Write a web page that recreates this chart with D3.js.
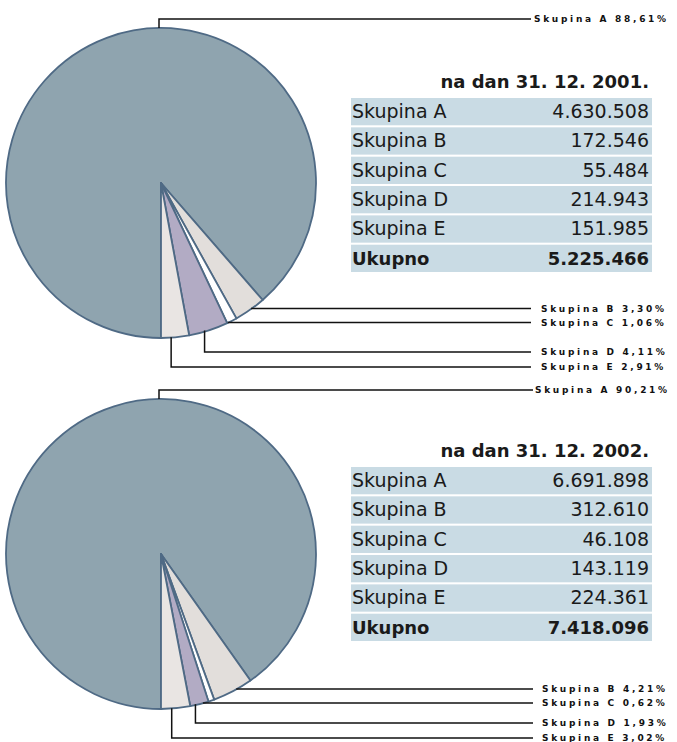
<!DOCTYPE html>
<html>
<head>
<meta charset="utf-8">
<script src="https://cdn.jsdelivr.net/npm/d3@7/dist/d3.min.js"></script>
<style>
  body { margin: 0; background: #fff; }
  svg { display: block; }
</style>
</head>
<body>
<div id="chart"></div>
<script>
//************* data ***************/
var groups = ["Skupina A", "Skupina B", "Skupina C", "Skupina D", "Skupina E"];
var values2001 = [4630508, 172546, 55484, 214943, 151985];
var values2002 = [6691898, 312610, 46108, 143119, 224361];
var titles = ["na dan 31. 12. 2001.", "na dan 31. 12. 2002."];
var totalLabel = "Ukupno";

//************* set dimensions ***************/
var width = 677, height = 742;
var radius = 155;
var panels = [
  { values: values2001, title: titles[0], cx: 161, cy: 183, tableTop: 98, lineEnd: 531, textX: 541 },
  { values: values2002, title: titles[1], cx: 161, cy: 554, tableTop: 467, lineEnd: 533, textX: 542 }
];

var colors = d3.scaleOrdinal()
  .domain(groups)
  .range(["#8fa4af", "#e2dedb", "#ffffff", "#b2abc4", "#e9e5e3"]);

var fmtInt = function(v) { return d3.format(",")(v).replace(/,/g, "."); };
var fmtPct = function(v) { return d3.format(".2f")(v).replace(".", ",") + "%"; };

var svg = d3.select("#chart")
  .append("svg")
    .attr("width", width)
    .attr("height", height);

// pie starts at 6 o'clock, A goes round the left side, E ends next to the start line
var pie = d3.pie().sort(null).startAngle(-Math.PI).endAngle(Math.PI);
var arc = d3.arc().innerRadius(0).outerRadius(radius);

panels.forEach(function(p) {
  var total = d3.sum(p.values);
  var slices = pie(p.values);
  var g = svg.append("g").attr("transform", "translate(" + p.cx + "," + p.cy + ")");

  g.selectAll("path")
    .data(slices)
    .enter()
    .append("path")
      .attr("d", arc)
      .attr("fill", function(d, i) { return colors(groups[i]); })
      .attr("stroke", "#4f6a85")
      .attr("stroke-width", 1.8)
      .attr("stroke-linejoin", "round");

  //************* leader lines ***************/
  function mid(d) {
    var a = (d.startAngle + d.endAngle) / 2;
    return [Math.sin(a) * radius, -Math.cos(a) * radius];
  }
  var leaders = [];
  // A: from the top of the pie
  leaders.push({ pts: [[-2, -radius], [-2, -radius - 9], [p.lineEnd - p.cx, -radius - 9]], i: 0 });
  // B and C: straight right, kept at least 14px apart
  var yB = mid(slices[1])[1], yC = mid(slices[2])[1];
  if (yC - yB < 14) { var s = (14 - (yC - yB)) / 2; yB -= s; yC += s; }
  [[1, yB], [2, yC]].forEach(function(e) {
    var x = Math.sqrt(radius * radius - e[1] * e[1]) - 1;
    leaders.push({ pts: [[x, e[1]], [p.lineEnd - p.cx, e[1]]], i: e[0] });
  });
  // D and E: down below the pie, then right
  [[3, 14], [4, 29]].forEach(function(e) {
    var m = mid(slices[e[0]]);
    var y = radius + e[1];
    leaders.push({ pts: [[m[0] - 4, m[1]], [m[0] - 4, y], [p.lineEnd - p.cx, y]], i: e[0] });
  });

  g.selectAll("polyline")
    .data(leaders)
    .enter()
    .append("polyline")
      .attr("points", function(d) { return d.pts.map(function(q) { return q.join(","); }).join(" "); })
      .attr("fill", "none")
      .attr("stroke", "#111")
      .attr("stroke-width", 1.5);

  g.selectAll("text.lbl")
    .data(leaders)
    .enter()
    .append("text")
      .attr("class", "lbl")
      .attr("x", function(d) { return (d.i === 0 ? p.textX - 7 : p.textX) - p.cx; })
      .attr("y", function(d) { return d.pts[d.pts.length - 1][1]; })
      .attr("dy", "0.35em")
      .style("font-family", "'DejaVu Sans', sans-serif")
      .style("font-size", "9px")
      .style("font-weight", "bold")
      .style("letter-spacing", "2.7px")
      .attr("fill", "#111")
      .text(function(d) { return groups[d.i] + " " + fmtPct(p.values[d.i] / total * 100); });

  //************* table ***************/
  var rows = groups.map(function(name, i) { return { name: name, value: p.values[i], bold: false }; });
  rows.push({ name: totalLabel, value: total, bold: true });

  var y = d3.scaleBand()
    .domain(d3.range(rows.length))
    .range([p.tableTop, p.tableTop + 29 * rows.length])
    .paddingInner(0.07);
  var x0 = 351, x1 = 652;

  svg.append("text")
    .attr("x", 649)
    .attr("y", p.tableTop - 10)
    .attr("text-anchor", "end")
    .style("font-family", "'DejaVu Sans', sans-serif")
    .style("font-size", "18px")
    .style("font-weight", "bold")
    .attr("fill", "#1a1a1a")
    .text(p.title);

  var tr = svg.append("g")
    .selectAll("g")
    .data(rows)
    .enter()
    .append("g")
      .attr("transform", function(d, i) { return "translate(0," + y(i) + ")"; });

  tr.append("rect")
    .attr("x", x0)
    .attr("width", x1 - x0)
    .attr("height", y.bandwidth())
    .attr("fill", "#c9dbe4");

  tr.append("text")
    .attr("x", x0 + 1)
    .attr("y", 20)
    .style("font-family", "'DejaVu Sans', sans-serif")
    .style("font-size", function(d) { return d.bold ? "18px" : "19px"; })
    .style("font-weight", function(d) { return d.bold ? "bold" : "normal"; })
    .attr("fill", "#1a1a1a")
    .text(function(d) { return d.name; });

  tr.append("text")
    .attr("x", x1 - 3)
    .attr("y", 20)
    .attr("text-anchor", "end")
    .style("font-family", "'DejaVu Sans', sans-serif")
    .style("font-size", function(d) { return d.bold ? "18px" : "19px"; })
    .style("font-weight", function(d) { return d.bold ? "bold" : "normal"; })
    .attr("fill", "#1a1a1a")
    .text(function(d) { return fmtInt(d.value); });
});
</script>
</body>
</html>
